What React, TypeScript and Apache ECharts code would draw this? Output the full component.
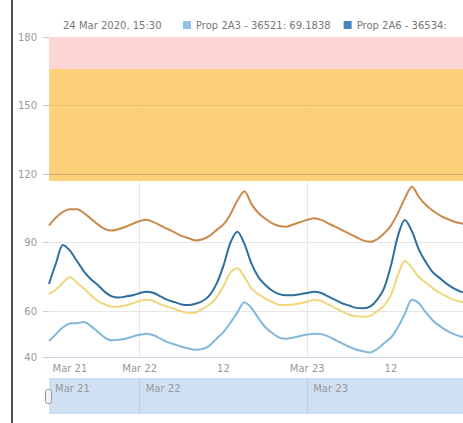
import { useEffect, useRef } from "react";
import * as echarts from "echarts";

// hours counted from 21 Mar 2020 00:00
const HOURS = [
  11, 12, 13, 14, 15, 16, 17, 18, 19, 20, 21, 22, 23, 24, 25, 26, 27, 28, 29, 30,
  31, 32, 33, 34, 35, 36, 37, 38, 39, 40, 41, 42, 43, 44, 45, 46, 47, 48, 49, 50,
  51, 52, 53, 54, 55, 56, 57, 58, 59, 60, 61, 62, 63, 64, 65, 66, 67, 68, 69, 70, 71,
];

const ORANGE_VALUES = [
  97.5, 101, 103.5, 104.6, 104.6, 103, 100.5, 98, 96, 95.3, 96, 97, 98.3, 99.5, 100, 99, 97.5, 96, 94.5, 93,
  92, 91, 91.5, 93, 95.5, 98, 102.5, 108.5, 112.5, 107, 103, 100.5, 98.5, 97.3, 97, 98, 99, 100, 100.7, 100,
  98.5, 97, 95.5, 94, 92.5, 91, 90.4, 91.5, 94, 97.5, 103, 109.5, 114.5, 110, 106.5, 104, 102, 100.5, 99.3, 98.5, 98,
];

const DARK_BLUE_VALUES = [
  72, 81, 89, 86.5, 82, 77.5, 74, 71.5, 68.5, 66.5, 66, 66.5, 67, 68, 68.6, 68, 66.5, 65, 64, 63,
  62.7, 63.3, 64.5, 67, 72, 80, 90, 94.8, 89.5, 81, 75, 71.5, 69, 67.5, 67, 67, 67.5, 68, 68.6, 68,
  66.5, 65, 63.5, 62.5, 61.5, 61.3, 62, 65, 70, 80, 93, 99.9, 95, 87, 81.5, 77, 74.5, 72, 70, 68.6, 68,
];

const YELLOW_VALUES = [
  67.5, 69.5, 72.5, 75, 72.5, 70, 67, 64.5, 63, 62, 62, 62.5, 63.5, 64.5, 65, 64.5, 63, 62, 61, 60,
  59.2, 59.5, 61, 63, 66, 71, 77, 78.8, 75, 70, 67.5, 65.5, 64, 62.8, 62.7, 63, 63.5, 64.2, 64.9, 64.5,
  63, 61.5, 60, 58.5, 57.8, 57.6, 58, 60, 62.5, 67, 76, 82, 79, 75, 72.5, 70, 68, 66.5, 65, 64.2, 64,
];

const LIGHT_BLUE_VALUES = [
  47, 50, 53, 54.7, 54.8, 55.3, 53.5, 51, 48.5, 47.3, 47.5, 48, 49, 49.7, 50.2, 49.5, 48, 46.5, 45.5, 44.5,
  43.7, 43.2, 43.5, 45, 48, 51, 55, 59.5, 64, 61.5, 57, 53, 50.5, 48.5, 48, 48.5, 49.2, 49.8, 50.2, 50,
  49, 47.5, 46, 44.5, 43.3, 42.5, 42, 43.5, 46, 48.5, 53, 59, 65, 63.5, 59.5, 56, 53.5, 51.5, 50, 49, 48.5,
];

const NAME_LIGHT_BLUE = "Prop 2A3 - 36521";
const NAME_DARK_BLUE = "Prop 2A6 - 36534";
const NAME_ORANGE = "Orange";
const NAME_YELLOW = "Yellow";
const LEGEND_VALUES: Record<string, string> = { [NAME_LIGHT_BLUE]: "69.1838", [NAME_DARK_BLUE]: "" };
const HEADER_TEXT = "24 Mar 2020, 15:30";

const X_MIN = 11;
const X_MAX = 70.32;
const Y_MIN = 40;
const Y_MAX = 180;
const Y_TICKS = [40, 60, 90, 120, 150, 180];
const X_LABEL_VALUES = [14, 24, 36, 48, 60];
const X_LABEL_TEXT: Record<number, string> = { 14: "Mar 21", 24: "Mar 22", 36: "12", 48: "Mar 23", 60: "12" };
const DAY_VALUES = [24, 48];
const NAV_LABEL_VALUES = [11, 24, 48];
const NAV_LABEL_TEXT: Record<number, string> = { 11: "Mar 21", 24: "Mar 22", 48: "Mar 23" };
const BAND_RED = [166, 180];
const BAND_ORANGE = [117, 166];
const THRESHOLD_LINES = [120, 150];

const FONT = "DejaVu Sans, Verdana, sans-serif";

function pairs(values: number[]) {
  return HOURS.map((h, i) => [h, values[i]]);
}

export default function App() {
  const ref = useRef<HTMLDivElement>(null);
  useEffect(() => {
    if (!ref.current) return;
    const chart = echarts.init(ref.current, undefined, { renderer: "svg" });
    const lineBase = {
      type: "line",
      showSymbol: false,
      smooth: 0.3,
      lineStyle: { width: 2 },
      xAxisIndex: 0,
      yAxisIndex: 0,
      clip: true,
    };
    chart.setOption({
      animation: false,
      backgroundColor: "#ffffff",
      textStyle: { fontFamily: FONT },
      title: {
        text: HEADER_TEXT,
        left: 58,
        top: 15,
        textStyle: { fontSize: 10, fontWeight: "normal", color: "#777", fontFamily: FONT },
      },
      legend: {
        data: [
          { name: NAME_LIGHT_BLUE, itemStyle: { color: "#8ec4ea" } },
          { name: NAME_DARK_BLUE, itemStyle: { color: "#4682c4" } },
        ],
        left: 178,
        top: 15,
        width: 2000,
        icon: "rect",
        itemWidth: 8,
        itemHeight: 8,
        itemGap: 13,
        formatter: (name: string) => name + ": " + (LEGEND_VALUES[name] ?? ""),
        textStyle: { fontSize: 10, color: "#777", fontFamily: FONT },
      },
      grid: [
        { left: 49, top: 37, right: 0, height: 320 },
        { left: 49, top: 378, right: 0, height: 36, show: true, backgroundColor: "#cfe0f3", borderWidth: 0 },
      ],
      xAxis: [
        {
          type: "value",
          gridIndex: 0,
          min: X_MIN,
          max: X_MAX,
          axisLine: { show: true, lineStyle: { color: "#ccd6eb" } },
          axisTick: { show: false, customValues: DAY_VALUES },
          axisLabel: {
            customValues: X_LABEL_VALUES,
            formatter: (v: number) => X_LABEL_TEXT[v] ?? "",
            color: "#999",
            fontSize: 10,
            margin: 6,
            fontFamily: FONT,
          },
          splitLine: { show: true, lineStyle: { color: "#e6e6e6" } },
        },
        {
          type: "value",
          gridIndex: 1,
          min: X_MIN,
          max: X_MAX,
          position: "top",
          axisLine: { show: false },
          axisTick: { show: false, customValues: DAY_VALUES },
          axisLabel: {
            inside: true,
            customValues: NAV_LABEL_VALUES,
            formatter: (v: number) => NAV_LABEL_TEXT[v] ?? "",
            align: "left",
            padding: [0, 0, 0, 6],
            color: "#999",
            fontSize: 10,
            margin: 5,
            fontFamily: FONT,
          },
          splitLine: { show: true, lineStyle: { color: "#b9cde4" } },
        },
      ],
      yAxis: [
        {
          type: "value",
          gridIndex: 0,
          min: Y_MIN,
          max: Y_MAX,
          axisLine: { show: false },
          axisTick: { show: true, length: 6, customValues: Y_TICKS, lineStyle: { color: "#ccc" } },
          axisLabel: {
            customValues: Y_TICKS,
            color: "#999",
            fontSize: 10,
            margin: 12,
            fontFamily: FONT,
          },
          splitLine: { show: true, lineStyle: { color: "#e6e6e6" } },
        },
        { type: "value", gridIndex: 1, min: 0, max: 1, show: false },
      ],
      series: [
        {
          ...lineBase,
          name: NAME_ORANGE,
          color: "#c98b4b",
          data: pairs(ORANGE_VALUES),
          markArea: {
            silent: true,
            data: [
              [
                { yAxis: BAND_RED[0], itemStyle: { color: "#fdd6d6" } },
                { yAxis: BAND_RED[1] },
              ],
              [
                { yAxis: BAND_ORANGE[0], itemStyle: { color: "rgba(253,202,104,0.88)" } },
                { yAxis: BAND_ORANGE[1] },
              ],
            ],
          },
          markLine: {
            silent: true,
            symbol: "none",
            label: { show: false },
            data: THRESHOLD_LINES.map((v, i) => ({
              yAxis: v,
              lineStyle: { color: i === 0 ? "rgba(150,130,100,0.45)" : "rgba(200,170,120,0.35)", width: 1, type: "solid" },
            })),
          },
        },
        { ...lineBase, name: NAME_DARK_BLUE, color: "#2f6f9f", data: pairs(DARK_BLUE_VALUES) },
        { ...lineBase, name: NAME_YELLOW, color: "#f1d67c", data: pairs(YELLOW_VALUES) },
        { ...lineBase, name: NAME_LIGHT_BLUE, color: "#80b7da", data: pairs(LIGHT_BLUE_VALUES) },
        { type: "line", xAxisIndex: 1, yAxisIndex: 1, data: [], silent: true },
      ],
      graphic: [
        { type: "rect", left: 11, top: 0, shape: { width: 2, height: 423 }, style: { fill: "#5a5047" } },
        {
          type: "rect",
          left: 45,
          top: 389,
          shape: { width: 6, height: 14, r: 2 },
          style: { fill: "#f2f2f2", stroke: "#999", lineWidth: 1 },
        },
      ],
    });
    return () => chart.dispose();
  }, []);
  return (
    <div
      ref={ref}
      style={{ position: "fixed", left: 0, top: 0, width: 463, height: 423, background: "#fff" }}
    />
  );
}
